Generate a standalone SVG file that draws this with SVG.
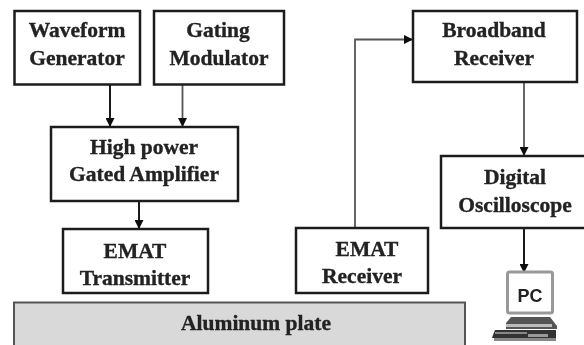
<svg xmlns="http://www.w3.org/2000/svg" width="584" height="345" viewBox="0 0 584 345">
<style>
.b{fill:#fff;stroke:#1c1c1c;stroke-width:2.5}
.t{font-family:"Liberation Serif",serif;font-weight:bold;font-size:21.500px;fill:#222;stroke:#222;stroke-width:.35;text-anchor:middle}
.c{fill:none;stroke:#111;stroke-width:1.9}
.g{stroke:#555;stroke-width:1.8}
</style>
<defs>
<marker id="a" markerUnits="userSpaceOnUse" markerWidth="10" markerHeight="9" refX="9" refY="4.500" orient="auto"><path d="M0 0L9 4.500L0 9Z" fill="#111"/></marker>
<filter id="s" filterUnits="userSpaceOnUse" x="-5" y="-5" width="594" height="355"><feGaussianBlur stdDeviation="0.45"/></filter>
</defs>
<rect width="584" height="345" fill="#fff"/>
<g filter="url(#s)">
<g id="connectors">
<path class="c" d="M110 84V127" marker-end="url(#a)"/>
<path class="c g" d="M182.500 84V127" marker-end="url(#a)"/>
<path class="c" d="M139 201V229" marker-end="url(#a)"/>
<path class="c g" d="M355 228V39.500H413" marker-end="url(#a)"/>
<path class="c g" d="M524 82V156" marker-end="url(#a)"/>
<path class="c" d="M524 228V273" marker-end="url(#a)"/>
</g>
<g id="waveform"><rect class="b" x="14.500" y="11" width="125.500" height="73.500"/><text class="t" x="77" y="37">Waveform</text><text class="t" x="77" y="65">Generator</text></g>
<g id="gating"><rect class="b" x="154" y="11" width="130" height="73.500"/><text class="t" x="218" y="37">Gating</text><text class="t" x="219" y="65">Modulator</text></g>
<g id="amplifier"><rect class="b" x="51" y="127" width="187" height="74"/><text class="t" x="144" y="154">High power</text><text class="t" x="144" y="181">Gated Amplifier</text></g>
<g id="transmitter"><rect class="b" x="63" y="229" width="145" height="64"/><text class="t" x="135" y="258">EMAT</text><text class="t" x="135" y="285">Transmitter</text></g>
<g id="receiver"><rect class="b" x="296" y="228" width="132" height="65"/><text class="t" x="367" y="256">EMAT</text><text class="t" x="362" y="283">Receiver</text></g>
<g id="broadband"><rect class="b" x="413" y="11" width="164" height="71"/><text class="t" x="494" y="37">Broadband</text><text class="t" x="494" y="65">Receiver</text></g>
<g id="oscilloscope"><rect class="b" x="441" y="156" width="146" height="72"/><text class="t" x="515" y="184">Digital</text><text class="t" x="515" y="212">Oscilloscope</text></g>
<g id="plate"><rect x="14" y="302.500" width="451" height="46" fill="#d9d9d9" stroke="#555" stroke-width="2"/><text class="t" x="256" y="330">Aluminum plate</text></g>
<g id="pc">
<rect x="507.500" y="272" width="45" height="41" rx="2" fill="#fff" stroke="#999" stroke-width="3"/>
<text x="530" y="302" font-family="Liberation Sans,sans-serif" font-weight="bold" font-size="18" fill="#222" text-anchor="middle">PC</text>
<path d="M506 323L511 317H550L557 326V329H506Z" fill="#555"/>
<rect x="506" y="324" width="46" height="3" fill="#bbb"/>
<path d="M495 330H556V338H492L493 335Z" fill="#333"/>
<rect x="495" y="332" width="32" height="2" fill="#888"/>
<rect x="528" y="334" width="20" height="3" fill="#999"/>
<rect x="494" y="338" width="62" height="3" fill="#888"/>
</g>
</g>
</svg>
